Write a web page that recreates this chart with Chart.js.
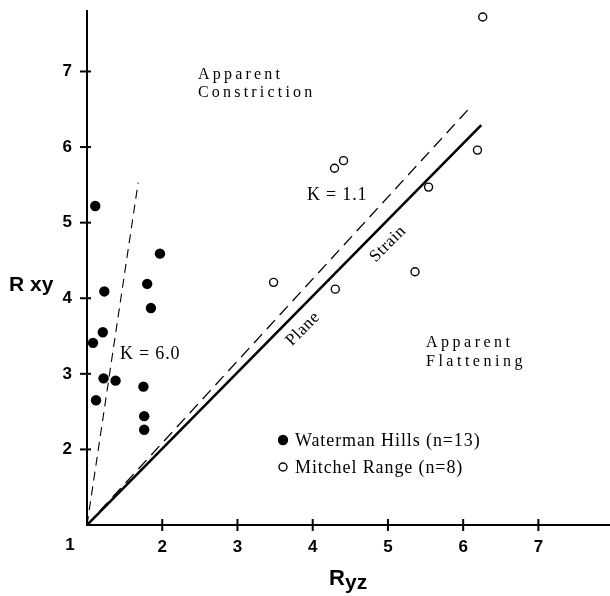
<!DOCTYPE html>
<html>
<head>
<meta charset="utf-8">
<script src="https://cdn.jsdelivr.net/npm/chart.js@4.4.1/dist/chart.umd.min.js"></script>
<style>
  html, body { margin: 0; padding: 0; background: #fff; overflow: hidden; }
  canvas { display: block; }
</style>
</head>
<body>
<canvas id="chart" width="610" height="596"></canvas>
<script>
// Waterman Hills (filled) and Mitchel Range (open), Ryz vs Rxy
const watermanX = [1.11, 1.23, 1.80, 1.97, 1.85, 1.21, 1.08, 1.22, 1.38, 1.12, 1.75, 1.76, 1.76];
const watermanY = [5.22, 4.09, 4.19, 4.59, 3.87, 3.55, 3.41, 2.94, 2.91, 2.65, 2.83, 2.44, 2.26];
const mitchelX = [6.26, 4.29, 4.41, 6.19, 5.54, 5.36, 4.30, 3.48];
const mitchelY = [7.72, 5.72, 5.82, 5.96, 5.47, 4.35, 4.12, 4.21];

// reference lines (start, end)
const planeX = [1, 6.24];
const planeY = [1, 6.29];
const k11X = [1, 6.08];
const k11Y = [1, 6.51];
const k6X = [1, 1.68];
const k6Y = [1, 5.53];

const xTicks = [1, 2, 3, 4, 5, 6, 7];
const yTicks = [1, 2, 3, 4, 5, 6, 7];

const SANS = '"Liberation Sans", Arial, sans-serif';
const SERIF = '"Liberation Serif", "Times New Roman", serif';

function pts(xs, ys) {
    return xs.map((x, i) => ({ x: x, y: ys[i] }));
}

function lineSet(xs, ys, width, dash) {
    return {
        data: pts(xs, ys),
        showLine: true,
        borderColor: '#000',
        borderWidth: width,
        borderDash: dash,
        pointRadius: 0,
        fill: false
    };
}

function text(ctx, str, x, y, font, spacing) {
    ctx.font = font;
    ctx.letterSpacing = (spacing || 0) + 'px';
    ctx.fillText(str, x, y);
    ctx.letterSpacing = '0px';
}

const extras = {
    id: 'extras',
    afterDatasetsDraw(chart) {
        const ctx = chart.ctx;
        const xs = chart.scales.x;
        const ys = chart.scales.y;
        const area = chart.chartArea;
        ctx.save();
        ctx.strokeStyle = '#000';
        ctx.fillStyle = '#000';
        ctx.lineWidth = 2;

        // ticks crossing the axes
        xTicks.filter(v => v !== 1).forEach(v => {
            const px = xs.getPixelForValue(v);
            ctx.beginPath();
            ctx.moveTo(px, area.bottom - 6);
            ctx.lineTo(px, area.bottom + 6);
            ctx.stroke();
        });
        yTicks.filter(v => v !== 1).forEach(v => {
            const py = ys.getPixelForValue(v);
            ctx.beginPath();
            ctx.moveTo(area.left - 7, py);
            ctx.lineTo(area.left + 4, py);
            ctx.stroke();
        });

        // x axis runs to the page edge
        ctx.beginPath();
        ctx.moveTo(area.left, area.bottom);
        ctx.lineTo(chart.width, area.bottom);
        ctx.stroke();

        // shared "1" at the corner
        ctx.textAlign = 'center';
        ctx.textBaseline = 'middle';
        text(ctx, '1', area.left - 17, area.bottom + 20, 'bold 17px ' + SANS);

        // axis titles
        ctx.textAlign = 'left';
        ctx.textBaseline = 'alphabetic';
        text(ctx, 'R xy', 9, 291, 'bold 21px ' + SANS);
        text(ctx, 'R', 329, 585, 'bold 22px ' + SANS);
        text(ctx, 'yz', 345, 589, 'bold 21px ' + SANS);

        // region labels
        text(ctx, 'Apparent', 198, 79, '16px ' + SERIF, 3.2);
        text(ctx, 'Constriction', 198, 97, '16px ' + SERIF, 3.2);
        text(ctx, 'Apparent', 426, 347, '16px ' + SERIF, 3.5);
        text(ctx, 'Flattening', 426, 366, '16px ' + SERIF, 3.5);

        // K labels
        text(ctx, 'K = 1.1', 307, 200, '18px ' + SERIF, 0.8);
        text(ctx, 'K = 6.0', 120, 359, '18px ' + SERIF, 0.8);

        // Plane / Strain along the solid line
        const ang = Math.atan2(
            ys.getPixelForValue(planeY[1]) - ys.getPixelForValue(planeY[0]),
            xs.getPixelForValue(planeX[1]) - xs.getPixelForValue(planeX[0])
        );
        ctx.textAlign = 'center';
        ctx.textBaseline = 'middle';
        [['Plane', 303, 329], ['Strain', 388, 244]].forEach(([s, cx, cy]) => {
            ctx.save();
            ctx.translate(cx, cy);
            ctx.rotate(ang);
            text(ctx, s, 0, 0, '17px ' + SERIF, 0.5);
            ctx.restore();
        });

        // legend
        ctx.textAlign = 'left';
        ctx.textBaseline = 'alphabetic';
        ctx.beginPath();
        ctx.arc(283, 440, 5.2, 0, Math.PI * 2);
        ctx.fill();
        ctx.lineWidth = 1.4;
        ctx.beginPath();
        ctx.arc(283, 467, 4, 0, Math.PI * 2);
        ctx.stroke();
        text(ctx, 'Waterman Hills (n=13)', 295, 446, '18px ' + SERIF, 0.9);
        text(ctx, 'Mitchel Range (n=8)', 295, 473, '18px ' + SERIF, 0.9);

        ctx.restore();
    }
};

const ctx = document.getElementById('chart').getContext('2d');
new Chart(ctx, {
    type: 'scatter',
    data: {
        datasets: [
            lineSet(planeX, planeY, 2.6, []),
            lineSet(k11X, k11Y, 1.3, [12, 7]),
            lineSet(k6X, k6Y, 1.1, [9, 6]),
            {
                label: 'Waterman Hills (n=13)',
                data: pts(watermanX, watermanY),
                pointRadius: 5.2,
                pointBackgroundColor: '#000',
                pointBorderColor: '#000',
                pointBorderWidth: 0
            },
            {
                label: 'Mitchel Range (n=8)',
                data: pts(mitchelX, mitchelY),
                pointRadius: 4,
                pointBackgroundColor: '#fff',
                pointBorderColor: '#000',
                pointBorderWidth: 1.4
            }
        ]
    },
    options: {
        responsive: false,
        animation: false,
        layout: { padding: { top: 11, right: 0, left: 0, bottom: 0 } },
        plugins: {
            legend: { display: false },
            tooltip: { enabled: false }
        },
        scales: {
            x: {
                type: 'linear',
                min: 1,
                max: 7.88,
                afterFit: s => { s.height = 71; s.paddingLeft = 0; s.paddingRight = 0; },
                afterBuildTicks: s => { s.ticks = xTicks.map(v => ({ value: v })); },
                border: { display: true, color: '#000', width: 2 },
                grid: { display: false, drawTicks: false },
                ticks: {
                    color: '#000',
                    padding: 12,
                    font: { family: SANS, size: 17, weight: 'bold' },
                    callback: v => (v === 1 ? '' : v)
                }
            },
            y: {
                type: 'linear',
                min: 1,
                max: 7.8,
                afterFit: s => { s.width = 87; s.paddingTop = 0; s.paddingBottom = 0; },
                afterBuildTicks: s => { s.ticks = yTicks.map(v => ({ value: v })); },
                border: { display: true, color: '#000', width: 2 },
                grid: { display: false, drawTicks: false },
                ticks: {
                    color: '#000',
                    padding: 15,
                    font: { family: SANS, size: 17, weight: 'bold' },
                    callback: v => (v === 1 ? '' : v)
                }
            }
        }
    },
    plugins: [extras]
});
</script>
</body>
</html>
